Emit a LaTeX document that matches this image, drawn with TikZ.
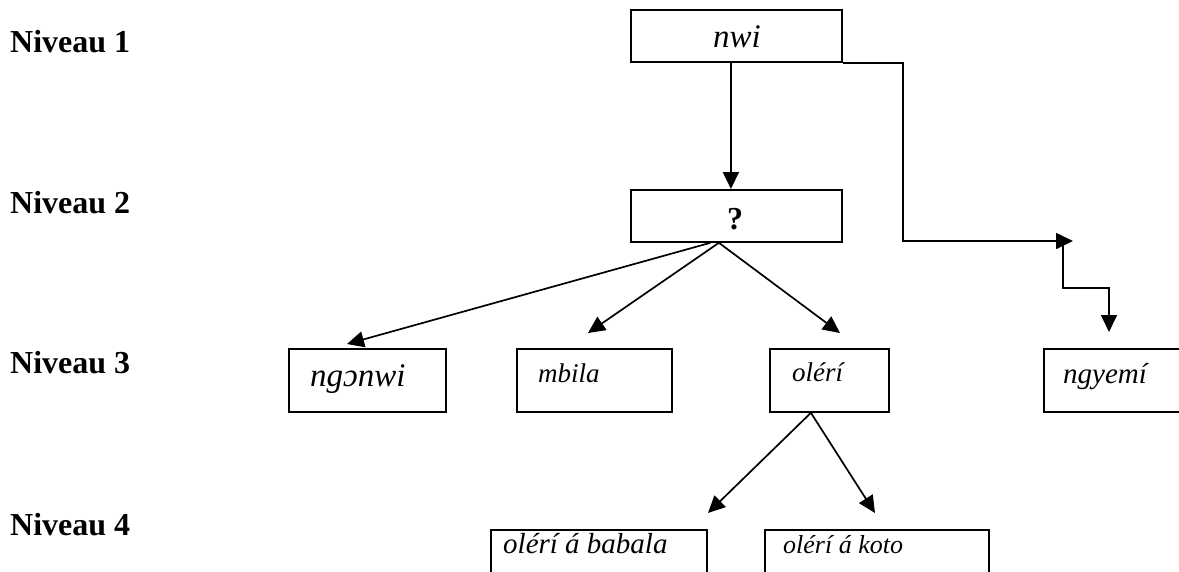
\documentclass[tikz,border=0pt]{standalone}
\usepackage{fontspec}
\setmainfont{Liberation Serif}[
  UprightFont={Liberation Serif},
  BoldFont={Liberation Serif Bold},
  ItalicFont={Liberation Serif Italic},
  BoldItalicFont={Liberation Serif Bold Italic}]
\usetikzlibrary{arrows.meta}
\begin{document}
\begin{tikzpicture}[x=1pt,y=-1pt,
  box/.style={draw,line width=1.8pt,rectangle,inner sep=0pt,anchor=north west},
  lvl/.style={anchor=base west,font=\fontsize{32}{36}\selectfont\bfseries,inner sep=0pt},
  big/.style={anchor=base west,font=\fontsize{33}{38}\selectfont\itshape,inner sep=0pt},
  small/.style={anchor=base west,font=\fontsize{27}{32}\selectfont\itshape,inner sep=0pt},
  conn/.style={line width=1.7pt},
  arr/.style={conn,-{Triangle[length=17pt,width=16pt]}}]
\useasboundingbox (0,0) rectangle (1179,571);
\clip (0,0) rectangle (1179,571);
% level labels
\node[lvl] (l1) at (10,52) {Niveau 1};
\node[lvl] (l2) at (10,213) {Niveau 2};
\node[lvl] (l3) at (10,373) {Niveau 3};
\node[lvl] (l4) at (10,535) {Niveau 4};
% boxes
\node[box,minimum width=211pt,minimum height=52pt] (nwi) at (630,9) {};
\node[box,minimum width=211pt,minimum height=52pt] (q) at (630,189) {};
\node[box,minimum width=157pt,minimum height=63pt] (ngonwi) at (288,348) {};
\node[box,minimum width=155pt,minimum height=63pt] (mbila) at (516,348) {};
\node[box,minimum width=119pt,minimum height=63pt] (oleri) at (769,348) {};
\node[box,minimum width=160pt,minimum height=63pt] (ngyemi) at (1043,348) {};
\node[box,minimum width=216pt,minimum height=60pt] (babala) at (490,529) {};
\node[box,minimum width=224pt,minimum height=60pt] (koto) at (764,529) {};
% texts
\node[big,anchor=base] (tnwi) at (737,47) {nwi};
\node[lvl,anchor=base] (tq) at (735,229) {?};
\node[big] (tngonwi) at (310,386) {ngɔnwi};
\node[small] (tmbila) at (538,382) {mbila};
\node[small] (toleri) at (792,381) {olérí};
\node[small,font=\fontsize{29}{34}\selectfont\itshape] (tngyemi) at (1063,383) {ngyemí};
\node[small,font=\fontsize{29}{34}\selectfont\itshape] (tbabala) at (503,553) {olérí á babala};
\node[small,font=\fontsize{26}{31}\selectfont\itshape] (tkoto) at (783,553) {olérí á koto};
% coordinates
\coordinate (r2) at (903,241);
\coordinate (j2) at (1073,241);
\coordinate (j1) at (1063,241);
\coordinate (s1) at (1063,288);
\coordinate (s2) at (1109,288);
\coordinate (s3) at (1109,332);
\coordinate (ta) at (347,344);
\coordinate (tb) at (588,333);
\coordinate (tc) at (840,333);
\coordinate (td) at (708,513);
\coordinate (te) at (875,513);
% connectors
\draw[arr] ([xshift=-5.5pt]nwi.south) -- ([xshift=-5.5pt]q.north);
\draw[arr] (nwi.south east) -| (r2) -- (j2);
\draw[arr] (j1) -- (s1) -- (s2) -- (s3);
\draw[arr] ([xshift=-26pt]q.south) -- (ta);
\draw[arr] ([xshift=-17.5pt]q.south) -- (tb);
\draw[arr] ([xshift=-17.5pt]q.south) -- (tc);
\draw[arr] ([xshift=-18.5pt]oleri.south) -- (td);
\draw[arr] ([xshift=-18.5pt]oleri.south) -- (te);
\end{tikzpicture}
\end{document}
